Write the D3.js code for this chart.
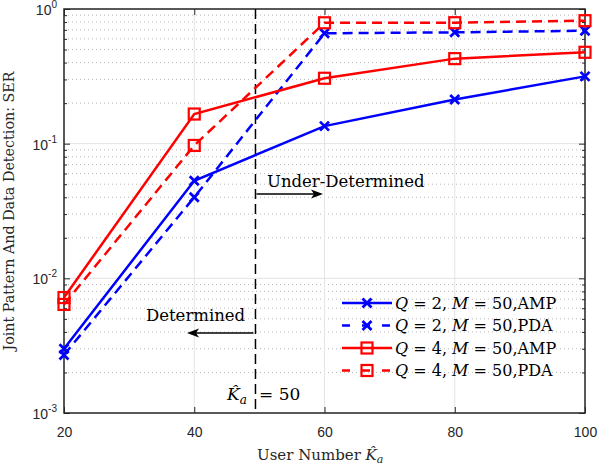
<!DOCTYPE html>
<html><head><meta charset="utf-8">
<script src="https://cdn.jsdelivr.net/npm/d3@7"></script>
<style>body{margin:0;background:#fff}svg{display:block}</style>
</head><body>
<script>
const users = [20, 40, 60, 80, 100];
const q2amp = [0.0030, 0.053, 0.135, 0.213, 0.316];
const q2pda = [0.0027, 0.040, 0.66, 0.671, 0.69];
const q4amp = [0.0072, 0.166, 0.306, 0.428, 0.477];
const q4pda = [0.0064, 0.097, 0.79, 0.791, 0.819];
const xTicks = [20, 40, 60, 80, 100];
const yDecades = [1e-3, 1e-2, 1e-1, 1];
const yDecadeLabels = ["-3", "-2", "-1", "0"];
const boundaryX = 49.4;

const series = [
  {name: "AMP", q: 2, values: q2amp, color: "#0000ff", dash: null, marker: "x"},
  {name: "PDA", q: 2, values: q2pda, color: "#0000ff", dash: "10,6", marker: "x"},
  {name: "AMP", q: 4, values: q4amp, color: "#ff0000", dash: null, marker: "s"},
  {name: "PDA", q: 4, values: q4pda, color: "#ff0000", dash: "10,6", marker: "s"}
];

const W = 598, H = 466;
const L = 64, R = 585, T = 9, B = 413;
const svg = d3.select("body").append("svg").attr("width", W).attr("height", H);
const x = d3.scaleLinear().domain([20, 100]).range([L, R]);
const y = d3.scaleLog().domain([1e-3, 1]).range([B, T]);

const minors = [];
for (let d = -3; d < 0; d++) for (let k = 2; k <= 9; k++) minors.push(k * Math.pow(10, d));

const axisCol = "#262626";
const tickFont = "'Liberation Sans', Arial, sans-serif";
const serif = "'DejaVu Serif', serif";

// grid
const g = svg.append("g");
g.selectAll(".mg").data(minors).enter().append("line")
  .attr("x1", L).attr("x2", R).attr("y1", d => y(d)).attr("y2", d => y(d))
  .attr("stroke", "#b8b8b8").attr("stroke-width", 1).attr("stroke-dasharray", "1,3");
g.selectAll(".Mg").data(yDecades).enter().append("line")
  .attr("x1", L).attr("x2", R).attr("y1", d => y(d)).attr("y2", d => y(d))
  .attr("stroke", "#e3e3e3").attr("stroke-width", 1);
g.selectAll(".xg").data(xTicks).enter().append("line")
  .attr("x1", d => x(d)).attr("x2", d => x(d)).attr("y1", T).attr("y2", B)
  .attr("stroke", "#e3e3e3").attr("stroke-width", 1);

// axes with inward ticks
function styleAxis(sel) {
  sel.select(".domain").remove();
  sel.selectAll("line").attr("stroke", axisCol).attr("stroke-width", 1);
}
svg.append("g").attr("transform", `translate(0,${B})`)
  .call(d3.axisBottom(x).tickValues(xTicks).tickSize(-6).tickPadding(14).tickFormat(d3.format("d")))
  .call(styleAxis)
  .call(s => s.selectAll("text").attr("font-family", tickFont).attr("font-size", 14).attr("fill", axisCol));
svg.append("g").attr("transform", `translate(0,${T})`)
  .call(d3.axisTop(x).tickValues(xTicks).tickSize(-6).tickFormat(""))
  .call(styleAxis);
svg.append("g").attr("transform", `translate(${L},0)`)
  .call(d3.axisLeft(y).tickValues(yDecades).tickSize(-6).tickFormat(""))
  .call(styleAxis);
svg.append("g").attr("transform", `translate(${L},0)`)
  .call(d3.axisLeft(y).tickValues(minors).tickSize(-3).tickFormat(""))
  .call(styleAxis);
svg.append("g").attr("transform", `translate(${R},0)`)
  .call(d3.axisRight(y).tickValues(yDecades).tickSize(-6).tickFormat(""))
  .call(styleAxis);
svg.append("g").attr("transform", `translate(${R},0)`)
  .call(d3.axisRight(y).tickValues(minors).tickSize(-3).tickFormat(""))
  .call(styleAxis);

// y tick labels with superscripts
const yl = svg.append("g");
yDecades.forEach((d, i) => {
  const t = yl.append("text").attr("x", L - 7).attr("y", y(d) + 6)
    .attr("text-anchor", "end").attr("font-family", tickFont).attr("font-size", 14).attr("fill", axisCol);
  t.append("tspan").text("10");
  t.append("tspan").attr("dy", -7).attr("font-size", 10).text(yDecadeLabels[i]);
});

// box
svg.append("rect").attr("x", L).attr("y", T).attr("width", R - L).attr("height", B - T)
  .attr("fill", "none").attr("stroke", axisCol).attr("stroke-width", 1.5);

// boundary line
svg.append("line").attr("x1", x(boundaryX)).attr("x2", x(boundaryX)).attr("y1", T).attr("y2", B)
  .attr("stroke", "#000").attr("stroke-width", 1.5).attr("stroke-dasharray", "10,5");

// markers
function drawMarker(sel, type, cx, cy, color) {
  if (type === "x") {
    const s = 4.5;
    sel.append("path").attr("d", `M${cx - s},${cy - s}L${cx + s},${cy + s}M${cx - s},${cy + s}L${cx + s},${cy - s}`)
      .attr("stroke", color).attr("stroke-width", 2.8).attr("fill", "none");
  } else {
    const s = 5.5;
    sel.append("rect").attr("x", cx - s).attr("y", cy - s).attr("width", 2 * s).attr("height", 2 * s)
      .attr("stroke", color).attr("stroke-width", 2.2).attr("fill", "none");
  }
}

const line = d3.line().x((d, i) => x(users[i])).y(d => y(d));
series.forEach(s => {
  const gs = svg.append("g");
  gs.append("path").attr("d", line(s.values)).attr("fill", "none")
    .attr("stroke", s.color).attr("stroke-width", 2.5).attr("stroke-dasharray", s.dash);
  s.values.forEach((v, i) => drawMarker(gs, s.marker, x(users[i]), y(v), s.color));
});

// annotations
function arrow(x1, x2, yy) {
  const dir = Math.sign(x2 - x1);
  svg.append("line").attr("x1", x1).attr("x2", x2 - dir * 8).attr("y1", yy).attr("y2", yy)
    .attr("stroke", "#000").attr("stroke-width", 1.3);
  svg.append("path").attr("d", `M${x2},${yy}L${x2 - dir * 12},${yy - 4.5}L${x2 - dir * 9},${yy}L${x2 - dir * 12},${yy + 4.5}Z`)
    .attr("fill", "#000");
}
svg.append("text").attr("x", 267).attr("y", 187).attr("font-family", serif).attr("font-size", 16.5)
  .attr("fill", "#000").text("Under-Determined");
arrow(x(boundaryX) + 1, 323, 194);
svg.append("text").attr("x", 146).attr("y", 321).attr("font-family", serif).attr("font-size", 16.5)
  .attr("fill", "#000").text("Determined");
arrow(x(boundaryX) - 2, 187, 333);

// K_a = 50 label
const kt = svg.append("text").attr("x", 227).attr("y", 400).attr("font-family", serif).attr("font-size", 17).attr("fill", "#000");
kt.append("tspan").attr("font-style", "italic").text("K\u0302");
kt.append("tspan").attr("font-style", "italic").attr("font-size", 12).attr("dy", 4).text("a");
svg.append("text").attr("x", 259).attr("y", 400).attr("font-family", serif).attr("font-size", 17)
  .attr("fill", "#000").text("= 50");

// axis labels
const xt = svg.append("text").attr("x", 257).attr("y", 460).attr("font-family", serif).attr("font-size", 15).attr("fill", axisCol);
xt.append("tspan").text("User Number ");
xt.append("tspan").attr("font-style", "italic").text("K\u0302");
xt.append("tspan").attr("font-style", "italic").attr("font-size", 11).attr("dy", 3).text("a");

svg.append("text").attr("transform", `translate(14,211) rotate(-90)`).attr("text-anchor", "middle")
  .attr("font-family", serif).attr("font-size", 14.3).attr("fill", axisCol)
  .text("Joint Pattern And Data Detection: SER");

// legend
const legY = [303, 325.5, 348, 370.5];
series.forEach((s, i) => {
  const lg = svg.append("g");
  const yy = legY[i];
  lg.append("line").attr("x1", 342).attr("x2", 392).attr("y1", yy).attr("y2", yy)
    .attr("stroke", s.color).attr("stroke-width", 2.5).attr("stroke-dasharray", s.dash ? "8,12" : null);
  drawMarker(lg, s.marker, 367, yy, s.color);
  const t = lg.append("text").attr("x", 395).attr("y", yy + 5.5).attr("font-family", serif).attr("font-size", 16).attr("fill", "#000");
  t.append("tspan").attr("font-style", "italic").text("Q");
  t.append("tspan").text(` = ${s.q}, `);
  t.append("tspan").attr("font-style", "italic").text("M");
  t.append("tspan").text(` = 50,${s.name}`);
});
</script>
</body></html>
